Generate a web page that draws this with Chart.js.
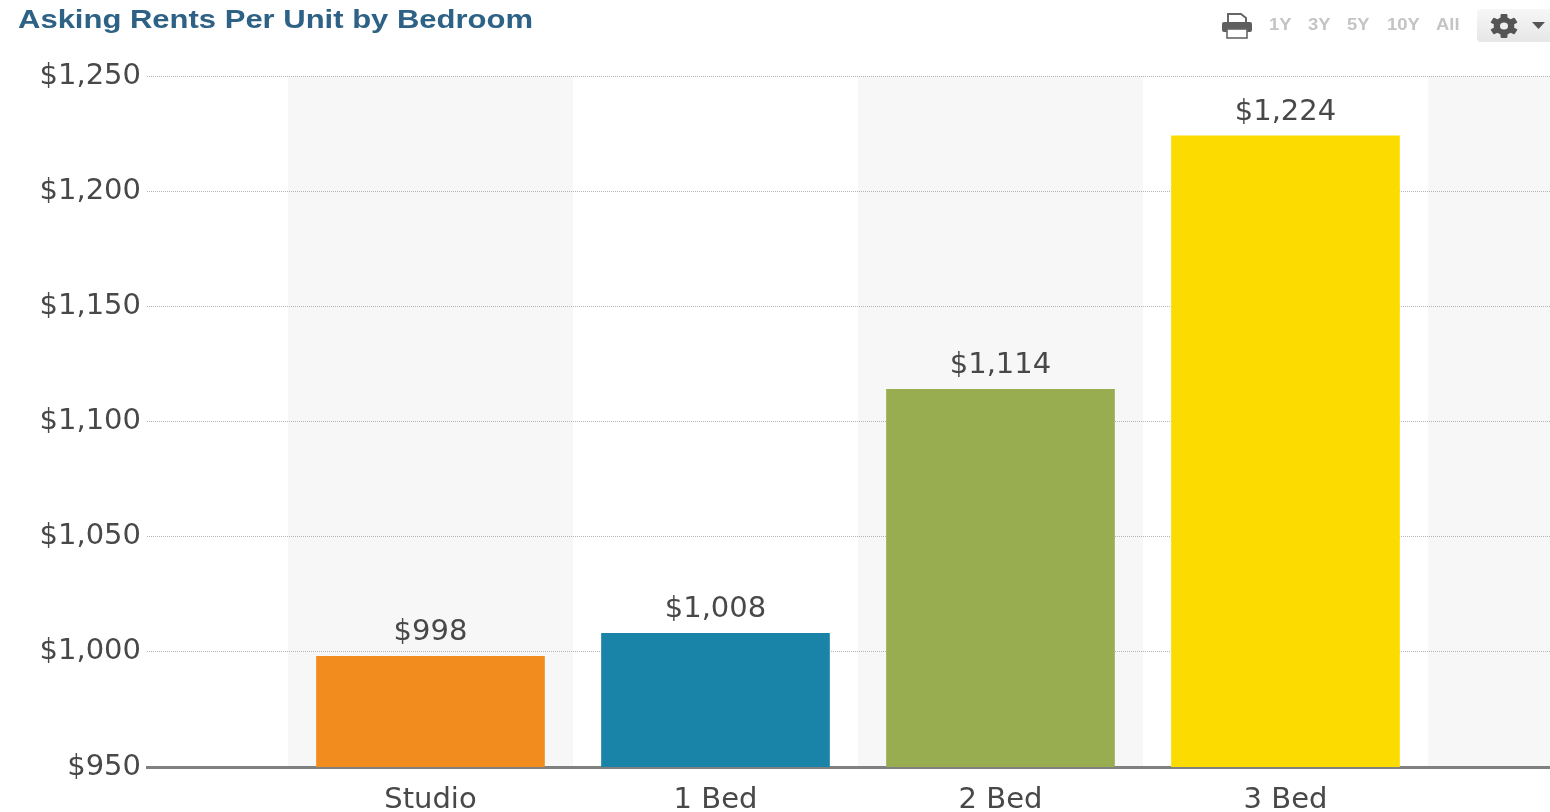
<!DOCTYPE html>
<html>
<head>
<meta charset="utf-8">
<title>Asking Rents Per Unit by Bedroom</title>
<script src="https://cdn.jsdelivr.net/npm/chart.js@4"></script>
<style>
    html, body { margin: 0; padding: 0; background: #fff; overflow: hidden; }
    #wrap { position: relative; width: 1550px; height: 812px; font-family: "Liberation Sans", Arial, sans-serif; }
    #rentChart { position: absolute; left: 0; top: 0; }
    #title { position: absolute; left: 18px; top: 4px; font-size: 25px; line-height: 30px; font-weight: bold; color: #2d6286; white-space: nowrap; transform: scaleX(1.24); transform-origin: left center; }
    .range { position: absolute; top: 16px; font-size: 16px; line-height: 18px; font-weight: bold; color: #c4c4c4; white-space: nowrap; transform: scaleX(1.15); transform-origin: left center; }
    #printer { position: absolute; left: 1221px; top: 12px; }
    #menu { position: absolute; left: 1477px; top: 9px; width: 73px; height: 33px; box-sizing: border-box; border-radius: 4px 0 0 4px; background: linear-gradient(#f7f7f7, #e6e6e6); }
    #menu svg { position: absolute; left: 0; top: 0; }
</style>
</head>
<body>
<div id="wrap">
    <canvas id="rentChart" width="1550" height="812"></canvas>
    <div id="title">Asking Rents Per Unit by Bedroom</div>
    <svg id="printer" width="32" height="28" viewBox="0 0 32 28">
        <path d="M7 10V2h13l5 4v4" fill="#fff" stroke="#666" stroke-width="2"/>
        <rect x="1" y="10" width="30" height="10" rx="2" fill="#5f5f5f"/>
        <rect x="6" y="17" width="20" height="9" fill="#fff" stroke="#666" stroke-width="1.6"/>
    </svg>
    <span class="range" style="left:1269px">1Y</span>
    <span class="range" style="left:1308px">3Y</span>
    <span class="range" style="left:1347px">5Y</span>
    <span class="range" style="left:1387px">10Y</span>
    <span class="range" style="left:1436px">All</span>
    <div id="menu">
        <svg width="73" height="33" viewBox="0 0 73 33">
            <g fill="#555" transform="translate(27 17) scale(1.15 1)">
                <circle r="9" />
                <rect x="-3" y="-12" width="6" height="24" rx="1"/>
                <rect x="-3" y="-12" width="6" height="24" rx="1" transform="rotate(60)"/>
                <rect x="-3" y="-12" width="6" height="24" rx="1" transform="rotate(120)"/>
                <circle r="3.5" fill="#eee"/>
            </g>
            <path d="M55 13h13l-6.5 7z" fill="#555"/>
        </svg>
    </div>
</div>
<script>
const categories = ['Studio', '1 Bed', '2 Bed', '3 Bed'];
const rents = [998, 1008, 1114, 1224];
const barColors = ['#f28c1f', '#1a83a8', '#98ac50', '#fcdc00'];
const yTicks = [950, 1000, 1050, 1100, 1150, 1200, 1250];

const money = v => '$' + v.toLocaleString('en-US');
const labelFont = '"DejaVu Sans", sans-serif';

// alternating bands behind each category, half a slot either side of the tick
const bandPlugin = {
    id: 'bands',
    beforeDraw(chart) {
        const { ctx, chartArea, scales } = chart;
        ctx.save();
        ctx.fillStyle = '#f7f7f7';
        for (let i = 0; i <= categories.length; i += 2) {
            const left = scales.x.getPixelForValue(i - 0.5);
            const right = Math.min(scales.x.getPixelForValue(i + 0.5), chartArea.right);
            ctx.fillRect(left, chartArea.top, right - left, chartArea.bottom - chartArea.top);
        }
        ctx.restore();
    }
};

// value above each bar
const valueLabelPlugin = {
    id: 'valueLabels',
    afterDatasetsDraw(chart) {
        const { ctx } = chart;
        ctx.save();
        ctx.font = '29px ' + labelFont;
        ctx.fillStyle = '#484848';
        ctx.textAlign = 'center';
        ctx.textBaseline = 'alphabetic';
        chart.getDatasetMeta(0).data.forEach((bar, i) => {
            ctx.fillText(money(rents[i]), bar.x, bar.y - 16);
        });
        ctx.restore();
    }
};

const ctx = document.getElementById('rentChart').getContext('2d');
new Chart(ctx, {
    type: 'bar',
    data: {
        datasets: [{
            data: rents.map((v, i) => ({ x: i, y: v })),
            backgroundColor: barColors,
            barThickness: 228,
            borderWidth: 0
        }]
    },
    options: {
        responsive: false,
        animation: false,
        layout: { padding: { top: 76 } },
        plugins: {
            legend: { display: false },
            tooltip: { enabled: false }
        },
        scales: {
            x: {
                type: 'linear',
                offset: false,
                min: -0.9947,
                max: 3.9281,
                afterFit(scale) { scale.height = 45; },
                grid: { display: false },
                border: { color: '#808080', width: 3 },
                ticks: {
                    stepSize: 1,
                    includeBounds: false,
                    autoSkip: false,
                    maxRotation: 0,
                    padding: 8,
                    color: '#484848',
                    font: { family: labelFont, size: 29 },
                    callback: v => categories[v] || ''
                }
            },
            y: {
                min: 950,
                max: 1250,
                afterFit(scale) { scale.width = 147; },
                afterBuildTicks(scale) { scale.ticks = yTicks.map(value => ({ value })); },
                grid: { color: '#b4b4b4', lineWidth: 1, drawTicks: false },
                border: { display: false, dash: [1, 1] },
                ticks: {
                    padding: 6,
                    color: '#484848',
                    font: { family: labelFont, size: 29 },
                    callback: v => money(v)
                }
            }
        }
    },
    plugins: [bandPlugin, valueLabelPlugin]
});
</script>
</body>
</html>
